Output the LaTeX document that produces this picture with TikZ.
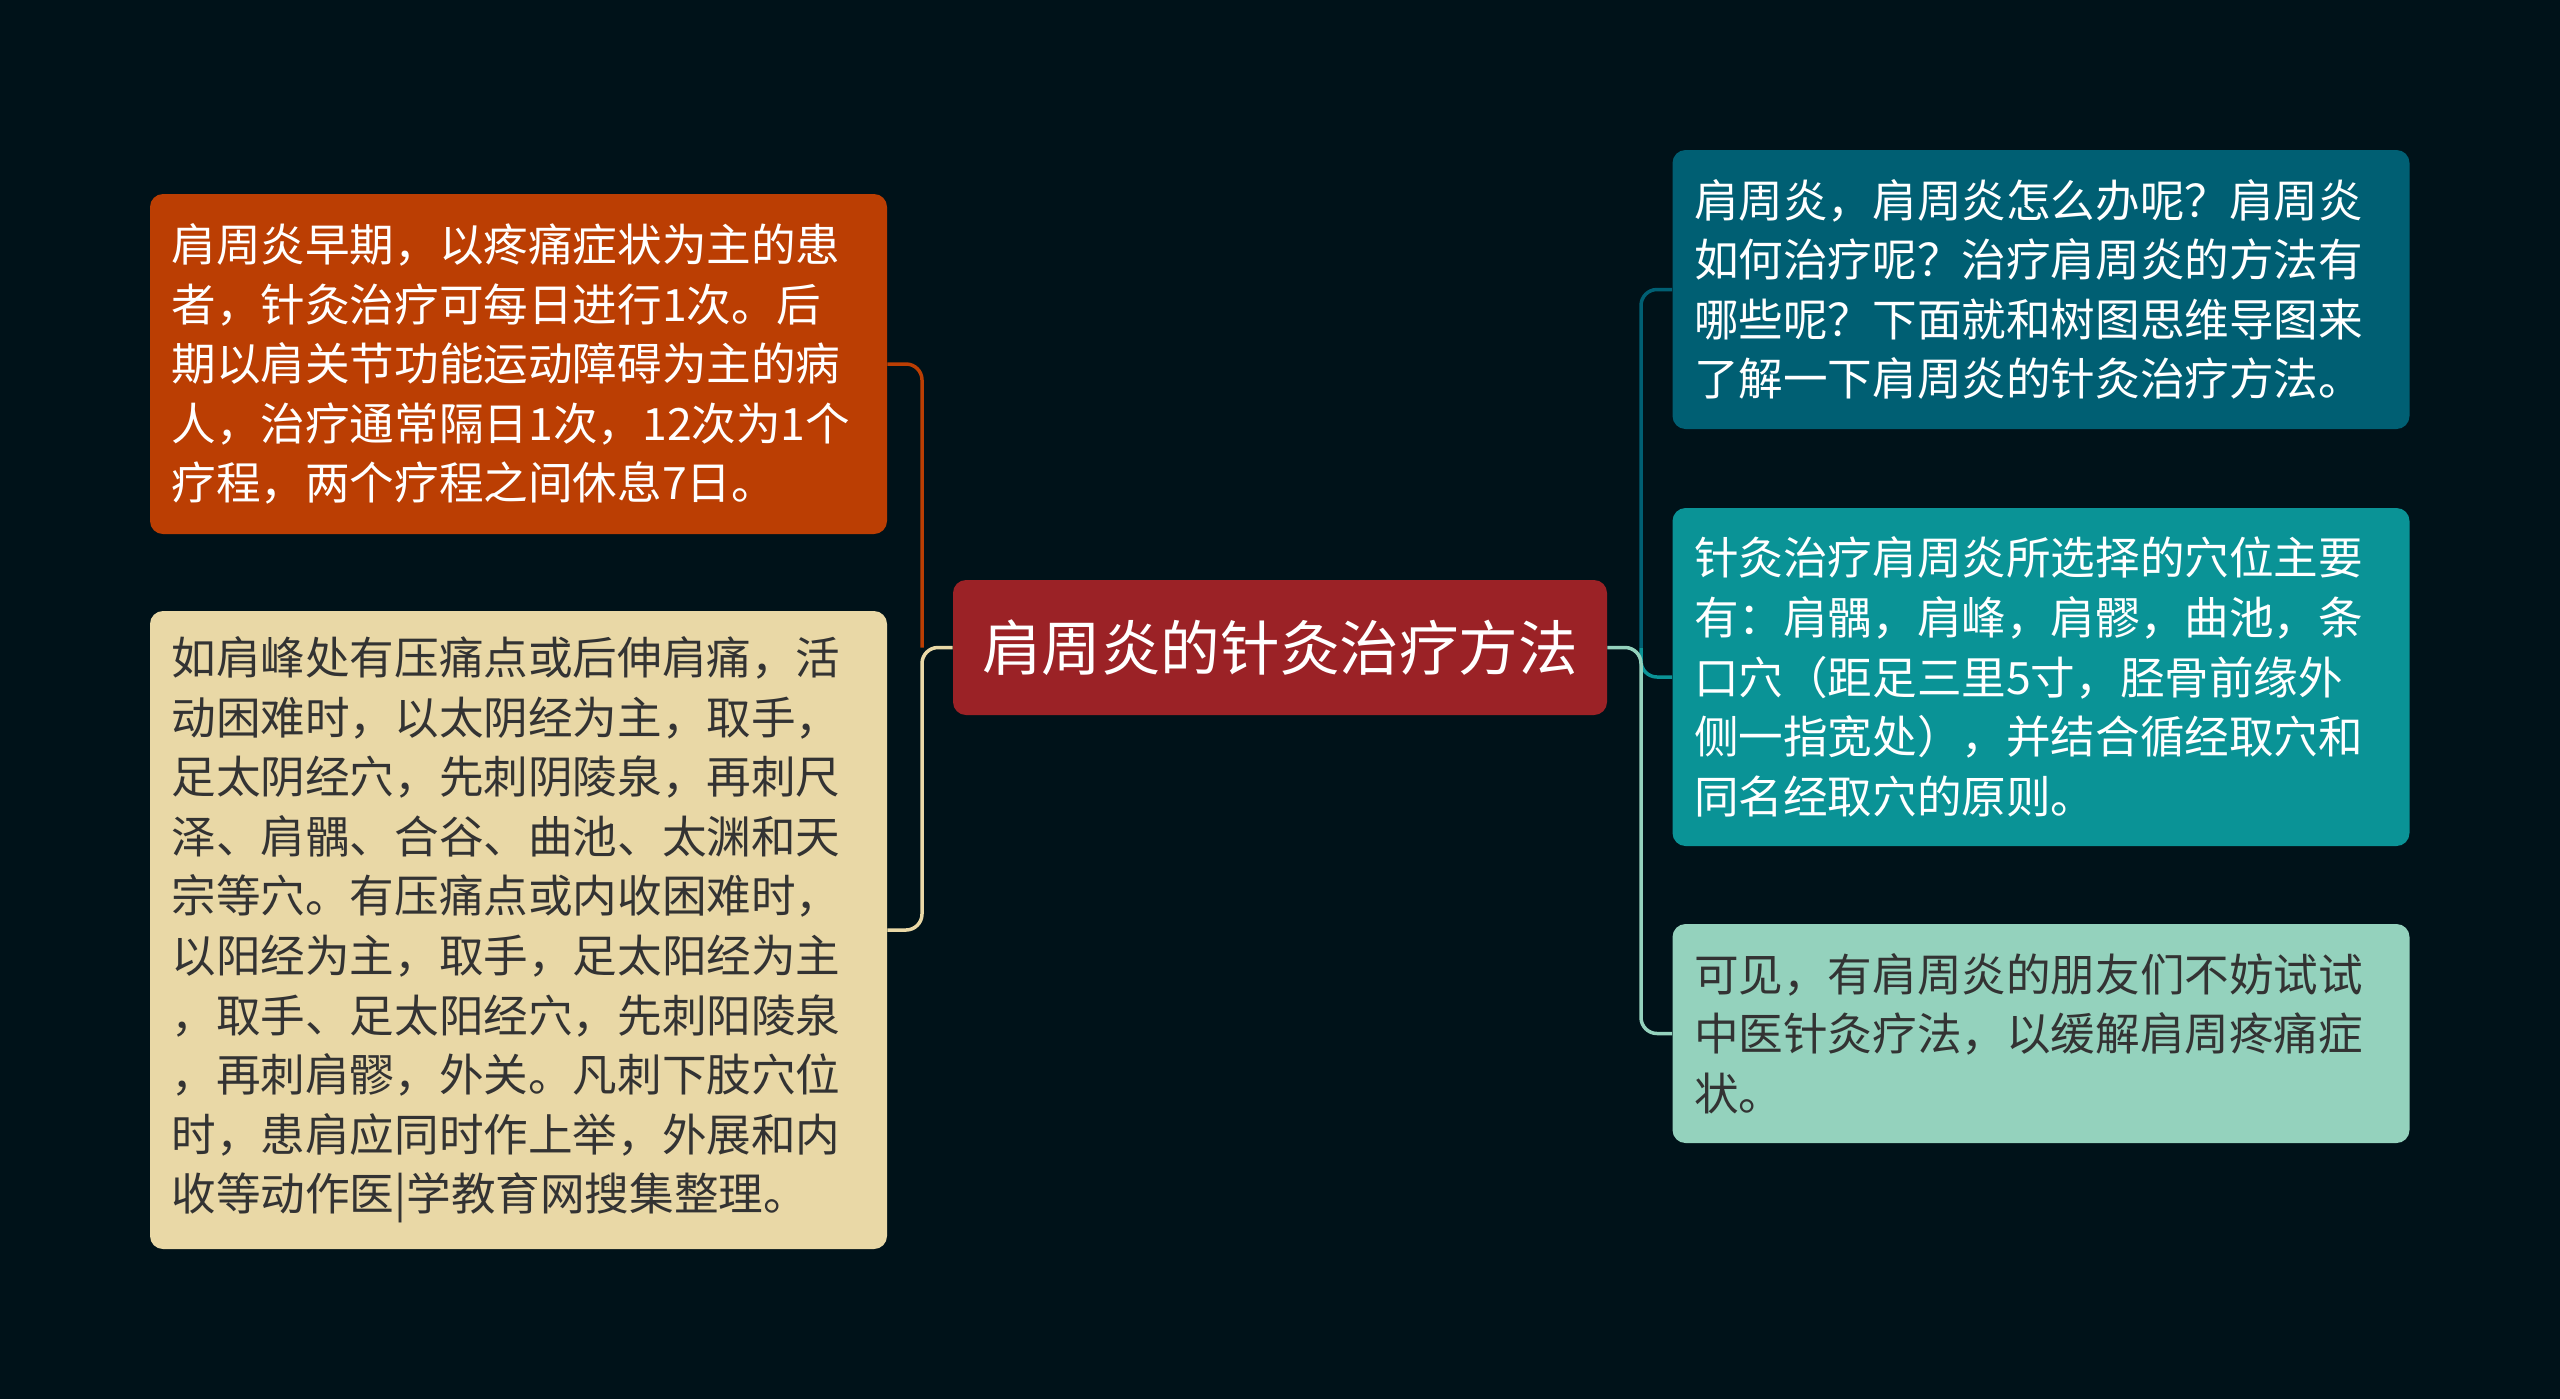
\documentclass[tikz,border=0pt]{standalone}
\usepackage{fontspec}
\setmainfont{Noto Sans CJK SC}
\usetikzlibrary{positioning}

\definecolor{bgnavy}{HTML}{001219}
\definecolor{topicred}{HTML}{9B2226}
\definecolor{rust}{HTML}{BB3E03}
\definecolor{sand}{HTML}{E9D8A6}
\definecolor{deepteal}{HTML}{005F73}
\definecolor{midteal}{HTML}{0A9396}
\definecolor{mint}{HTML}{94D2BD}
\definecolor{inkgray}{HTML}{333333}

\tikzset{
  leaf/.style={rounded corners=6.5pt, minimum width=368.5pt, inner xsep=10.75pt,
    inner ysep=0pt, text width=347pt, align=left,
    font=\fontsize{22.3}{29.8}\selectfont},
  link/.style={line width=1.75pt, rounded corners=8pt},
}

\begin{document}
\begin{tikzpicture}[x=0.5pt,y=-0.5pt]
    \fill[bgnavy] (0,0) rectangle (2560,1399);
    \useasboundingbox (0,0) rectangle (2560,1399);

    \node[fill=topicred, text=white, rounded corners=6.5pt, minimum width=327pt,
      minimum height=67.5pt, font=\fontsize{29.8}{36}\selectfont] (C) at (1280,647.5)
      {肩周炎的针灸治疗方法};

    \node[leaf, fill=rust, text=white, minimum height=170pt] (L1) at (518.5,364)
      {肩周炎早期，以疼痛症状为主的患\\
       者，针灸治疗可每日进行1次。后\\
       期以肩关节功能运动障碍为主的病\\
       人，治疗通常隔日1次，12次为1个\\
       疗程，两个疗程之间休息7日。};
    \node[leaf, fill=sand, text=inkgray, minimum height=319pt] (L2) at (518.5,930)
      {如肩峰处有压痛点或后伸肩痛，活\\
       动困难时，以太阴经为主，取手，\\
       足太阴经穴，先刺阴陵泉，再刺尺\\
       泽、肩髃、合谷、曲池、太渊和天\\
       宗等穴。有压痛点或内收困难时，\\
       以阳经为主，取手，足太阳经为主\\
       ，取手、足太阳经穴，先刺阳陵泉\\
       ，再刺肩髎，外关。凡刺下肢穴位\\
       时，患肩应同时作上举，外展和内\\
       收等动作医|学教育网搜集整理。};

    \node[leaf, fill=deepteal, text=white, minimum height=139.5pt] (R1) at (2041,289.5)
      {肩周炎，肩周炎怎么办呢？肩周炎\\
       如何治疗呢？治疗肩周炎的方法有\\
       哪些呢？下面就和树图思维导图来\\
       了解一下肩周炎的针灸治疗方法。};
    \node[leaf, fill=midteal, text=white, minimum height=169pt] (R2) at (2041,677)
      {针灸治疗肩周炎所选择的穴位主要\\
       有：肩髃，肩峰，肩髎，曲池，条\\
       口穴（距足三里5寸，胫骨前缘外\\
       侧一指宽处），并结合循经取穴和\\
       同名经取穴的原则。};
    \node[leaf, fill=mint, text=inkgray, minimum height=109.5pt] (R3) at (2041,1033.5)
      {可见，有肩周炎的朋友们不妨试试\\
       中医针灸疗法，以缓解肩周疼痛症\\
       状。};

    \coordinate (LJ) at (922,647.5);
    \coordinate (RJ) at (1641,647.5);

    \draw[link, rust] (LJ) |- (L1.east);
    \draw[link, sand] (C.west) -- (LJ) |- (L2.east);
    \draw[link, deepteal] (RJ) |- (R1.west);
    \draw[link, midteal] (RJ) |- (R2.west);
    \draw[link, mint] (C.east) -- (RJ) |- (R3.west);
\end{tikzpicture}
\end{document}
